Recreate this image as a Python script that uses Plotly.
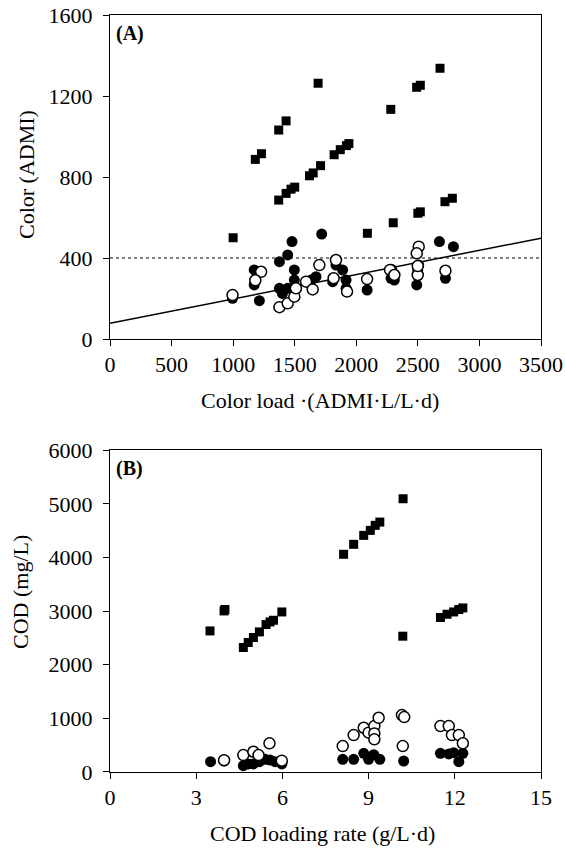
import plotly.graph_objects as go

# ---- panel A: color ----
a_sq_x = [1000, 1180, 1230, 1370, 1430, 1370, 1430, 1470, 1500, 1620, 1650, 1690, 1710,
          1820, 1870, 1920, 1940, 2090, 2280, 2300, 2490, 2520, 2500, 2520, 2680, 2720, 2780]
a_sq_y = [500, 887, 915, 1032, 1077, 686, 719, 740, 750, 806, 820, 1263, 856,
          910, 935, 955, 965, 522, 1134, 574, 1243, 1253, 621, 628, 1337, 678, 695]

a_fill_x = [995, 1213, 1171, 1171, 1376, 1443, 1478, 1719, 1376, 1443, 1400, 1497, 1497,
            1497, 1632, 1673, 1808, 1835, 1889, 1917, 1917, 2088, 2282, 2309, 2491,
            2499, 2507, 2675, 2789, 2724]
a_fill_y = [201, 189, 341, 267, 382, 415, 481, 518, 250, 250, 225, 341, 291,
            209, 291, 308, 283, 365, 341, 291, 250, 242, 300, 291, 267,
            341, 365, 481, 456, 300]

a_open_x = [995, 1227, 1180, 1376, 1443, 1497, 1510, 1592, 1646, 1700, 1835, 1816,
            1925, 2088, 2282, 2274, 2309, 2507, 2491, 2499, 2499, 2724]
a_open_y = [217, 332, 290, 157, 176, 209, 250, 283, 245, 365, 390, 300,
            234, 296, 341, 341, 316, 456, 423, 316, 360, 337]

line_x = [0, 3500]
line_y = [78, 498]
limit_x = [0, 3500]
limit_y = [400, 400]

# ---- panel B: COD ----
b_sq_x = [3.48, 3.97, 4.0, 4.64, 4.81, 4.99, 5.2, 5.43, 5.57, 5.69, 5.98,
          8.13, 8.48, 8.83, 9.06, 9.23, 9.39, 10.2, 10.19,
          11.5, 11.73, 11.96, 12.14, 12.28]
b_sq_y = [2631, 3004, 3030, 2322, 2415, 2508, 2613, 2750, 2799, 2830, 2985,
          4060, 4246, 4413, 4506, 4600, 4661, 5096, 2533,
          2881, 2942, 2985, 3030, 3060]

b_fill_x = [3.5, 3.97, 4.64, 4.81, 4.99, 5.2, 5.4, 5.57, 5.75, 5.98,
            8.1, 8.48, 8.83, 9.0, 9.18, 9.39, 10.22,
            11.5, 11.79, 11.96, 12.14, 12.28]
b_fill_y = [192, 205, 118, 150, 150, 192, 236, 223, 192, 150,
            236, 236, 348, 236, 323, 236, 205,
            348, 336, 360, 192, 348]

b_open_x = [3.97, 4.64, 4.99, 5.17, 5.55, 5.98,
            8.1, 8.48, 8.83, 9.0, 9.2, 9.35, 9.2, 9.2,
            10.16, 10.24, 10.19,
            11.5, 11.79, 11.9, 12.14, 12.28]
b_open_y = [220, 316, 378, 316, 534, 211,
            484, 689, 825, 733, 856, 1011, 720, 609,
            1061, 1024, 484,
            856, 856, 689, 689, 534]

FONT = "Liberation Serif"

fig = go.Figure()

fig.add_trace(go.Scatter(x=limit_x, y=limit_y, mode="lines",
                         line=dict(color="black", width=1, dash="dot"),
                         xaxis="x", yaxis="y", showlegend=False))
fig.add_trace(go.Scatter(x=line_x, y=line_y, mode="lines",
                         line=dict(color="black", width=1.5),
                         xaxis="x", yaxis="y", showlegend=False))

panels = [
    ("x", "y", a_sq_x, a_sq_y, a_fill_x, a_fill_y, a_open_x, a_open_y),
    ("x2", "y2", b_sq_x, b_sq_y, b_fill_x, b_fill_y, b_open_x, b_open_y),
]
for xa, ya, sx, sy, fx, fy, ox, oy in panels:
    fig.add_trace(go.Scatter(x=sx, y=sy, mode="markers", xaxis=xa, yaxis=ya,
                             marker=dict(symbol="square", size=9, color="black"),
                             showlegend=False))
    fig.add_trace(go.Scatter(x=fx, y=fy, mode="markers", xaxis=xa, yaxis=ya,
                             marker=dict(symbol="circle", size=11, color="black"),
                             showlegend=False))
    fig.add_trace(go.Scatter(x=ox, y=oy, mode="markers", xaxis=xa, yaxis=ya,
                             marker=dict(symbol="circle", size=11, color="white",
                                         line=dict(color="black", width=1.5)),
                             showlegend=False))

axis_style = dict(showline=True, linecolor="black", linewidth=1, mirror=True,
                  ticks="outside", ticklen=6, tickcolor="black", showgrid=False,
                  zeroline=False, automargin=False, ticklabeloverflow="allow",
                  tickfont=dict(family=FONT, size=22, color="black"))
y_extra = dict(ticklabelstandoff=6)

# plot area on the page: x 110..541, y 15..772
def px_x(p):
    return (p - 110) / 431.0


def px_y(p):
    return (772 - p) / 757.0


title_font = dict(family=FONT, size=22, color="black")
anchors = dict(xref="paper", yref="paper", showarrow=False, xanchor="center",
               yanchor="middle", font=title_font)
annotations = [
    dict(text="Color load ·(ADMI·L/L·d)", x=px_x(320), y=px_y(400), **anchors),
    dict(text="Color (ADMI)", x=px_x(27), y=px_y(175), textangle=-90, **anchors),
    dict(text="COD loading rate (g/L·d)", x=px_x(322), y=px_y(833), **anchors),
    dict(text="COD (mg/L)", x=px_x(20), y=px_y(592), textangle=-90, **anchors),
    dict(text="<b>(A)</b>", xref="x domain", yref="y domain", x=0.01, y=0.985,
         xanchor="left", yanchor="top", showarrow=False,
         font=dict(family=FONT, size=20)),
    dict(text="<b>(B)</b>", xref="x2 domain", yref="y2 domain", x=0.01, y=0.985,
         xanchor="left", yanchor="top", showarrow=False,
         font=dict(family=FONT, size=20)),
]

fig.update_layout(
    width=565, height=854,
    margin=dict(l=110, r=24, t=15, b=82),
    paper_bgcolor="white", plot_bgcolor="white",
    font=dict(family=FONT, size=22, color="black"),
    xaxis=dict(domain=[0, 1], anchor="y", range=[0, 3500], dtick=500, **axis_style),
    yaxis=dict(domain=[0.572, 1], anchor="x", range=[0, 1600], dtick=400,
               **axis_style, **y_extra),
    xaxis2=dict(domain=[0, 1], anchor="y2", range=[0, 15], dtick=3, **axis_style),
    yaxis2=dict(domain=[0, 0.425], anchor="x2", range=[0, 6000], dtick=1000,
                **axis_style, **y_extra),
    annotations=annotations,
)

# drop the default body margin so the figure fills the window exactly
fig.write_html("out.html", config={"displayModeBar": False},
               post_script="document.body.style.margin = '0';")
